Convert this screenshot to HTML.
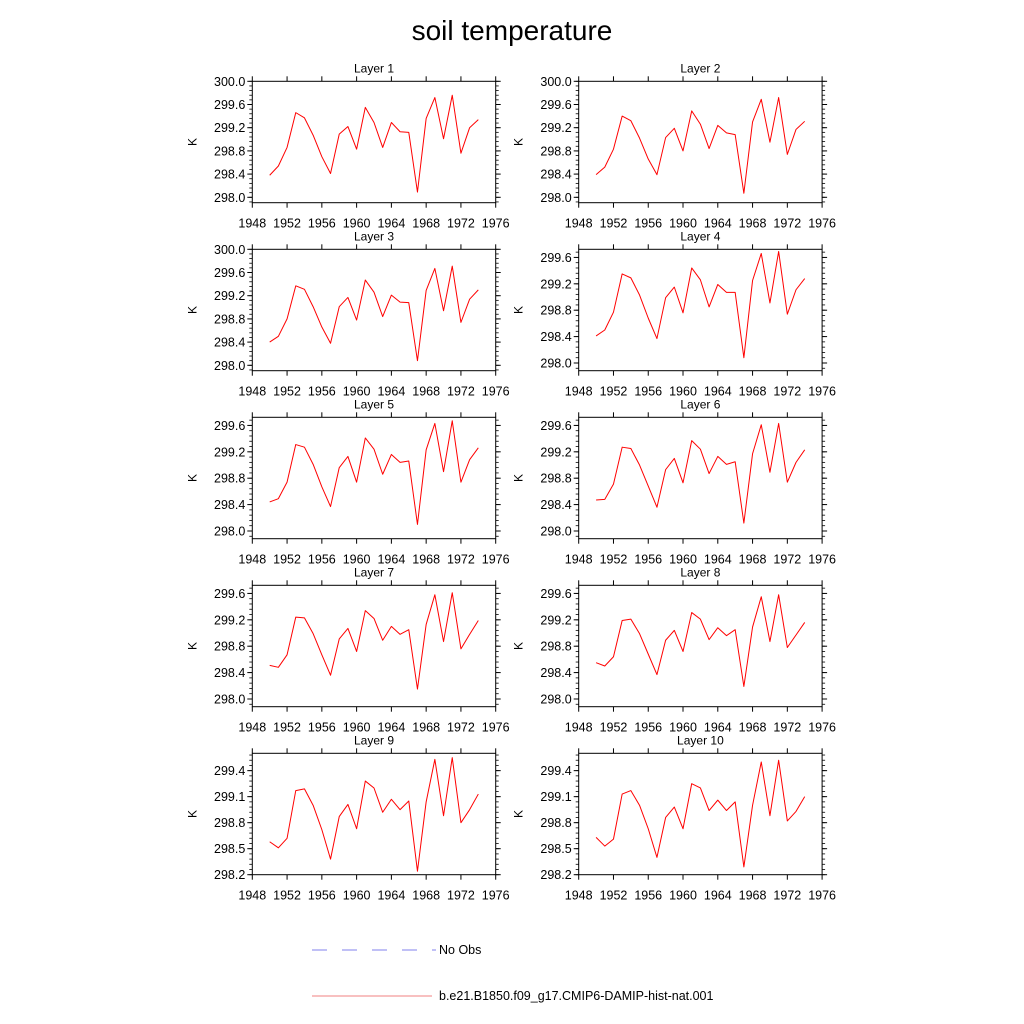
<!DOCTYPE html>
<html><head><meta charset="utf-8">
<style>
html,body{margin:0;padding:0;background:#fff;}
svg{display:block;font-family:"Liberation Sans",Arial,sans-serif;}
</style></head>
<body>
<svg id="chart" width="1024" height="1024" viewBox="0 0 1024 1024" xmlns="http://www.w3.org/2000/svg">
<rect x="0" y="0" width="1024" height="1024" fill="#fff"/>
<text x="512" y="40" font-size="28" text-anchor="middle" fill="#000">soil temperature</text>
<g id="panels"></g>
<g>
<line x1="312" y1="950" x2="436" y2="950" stroke="#8080ee" stroke-width="1" stroke-dasharray="15,15"/>
<text x="439" y="954" font-size="12.5" fill="#000">No Obs</text>
<line x1="312" y1="996" x2="432" y2="996" stroke="#f08080" stroke-width="1"/>
<text x="439" y="1000" font-size="12.5" fill="#000">b.e21.B1850.f09_g17.CMIP6-DAMIP-hist-nat.001</text>
</g>
</svg>
<script>
const years = [1950,1951,1952,1953,1954,1955,1956,1957,1958,1959,1960,1961,1962,1963,1964,1965,1966,1967,1968,1969,1970,1971,1972,1973,1974];
const layer1 = [298.38,298.54,298.86,299.46,299.37,299.07,298.70,298.41,299.09,299.22,298.83,299.55,299.29,298.86,299.29,299.13,299.12,298.09,299.36,299.72,299.01,299.76,298.76,299.20,299.34];
const layer2 = [298.39,298.52,298.83,299.40,299.32,299.02,298.66,298.39,299.03,299.19,298.80,299.49,299.26,298.84,299.24,299.11,299.08,298.07,299.30,299.69,298.95,299.72,298.74,299.17,299.31];
const layer3 = [298.40,298.50,298.80,299.37,299.31,299.01,298.66,298.38,299.01,299.17,298.78,299.47,299.26,298.84,299.21,299.09,299.08,298.08,299.29,299.67,298.94,299.71,298.74,299.14,299.30];
const layer4 = [298.41,298.50,298.77,299.35,299.29,299.03,298.68,298.37,298.99,299.15,298.76,299.44,299.26,298.85,299.19,299.07,299.07,298.08,299.25,299.66,298.91,299.69,298.74,299.11,299.28];
const layer5 = [298.44,298.49,298.74,299.31,299.27,299.01,298.67,298.37,298.96,299.13,298.74,299.41,299.24,298.86,299.16,299.04,299.06,298.10,299.23,299.63,298.90,299.67,298.74,299.08,299.26];
const layer6 = [298.47,298.48,298.71,299.27,299.25,299.00,298.68,298.36,298.93,299.10,298.73,299.37,299.24,298.87,299.13,299.01,299.05,298.12,299.17,299.61,298.89,299.63,298.74,299.04,299.23];
const layer7 = [298.51,298.48,298.67,299.24,299.23,298.99,298.67,298.36,298.91,299.07,298.72,299.34,299.22,298.89,299.10,298.98,299.05,298.15,299.13,299.58,298.87,299.61,298.76,298.98,299.19];
const layer8 = [298.55,298.50,298.64,299.19,299.21,298.99,298.68,298.37,298.89,299.04,298.72,299.31,299.21,298.90,299.08,298.96,299.05,298.19,299.09,299.55,298.87,299.58,298.78,298.97,299.16];
const layer9 = [298.58,298.51,298.62,299.17,299.19,299.00,298.72,298.38,298.87,299.01,298.73,299.28,299.20,298.92,299.07,298.95,299.05,298.24,299.04,299.53,298.88,299.55,298.80,298.95,299.13];
const layer10 = [298.63,298.53,298.61,299.13,299.17,299.00,298.73,298.40,298.86,298.98,298.73,299.25,299.20,298.94,299.06,298.94,299.04,298.29,299.00,299.50,298.88,299.52,298.82,298.93,299.10];
const xTickLabels = ["1948","1952","1956","1960","1964","1968","1972","1976"];
const yTicksA = ["298.0","298.4","298.8","299.2","299.6","300.0"];
const yTicksB = ["298.0","298.4","298.8","299.2","299.6"];
const yTicksC = ["298.2","298.5","298.8","299.1","299.4"];
const layerNames = ["Layer 1","Layer 2","Layer 3","Layer 4","Layer 5","Layer 6","Layer 7","Layer 8","Layer 9","Layer 10"];
const series = [layer1,layer2,layer3,layer4,layer5,layer6,layer7,layer8,layer9,layer10];

const NS = "http://www.w3.org/2000/svg";
const root = document.getElementById('panels');
function mk(tag, attrs, parent){const e=document.createElementNS(NS,tag);for(const k in attrs)e.setAttribute(k,attrs[k]);parent.appendChild(e);return e;}

const W = 243.4, H = 121.4;
const xMin = 1948, xMax = 1976;
for (let i=0;i<10;i++){
  const col = i%2, row = Math.floor(i/2);
  const left = col===0 ? 252.3 : 578.7;
  const top = 81.3 + row*168;
  let yMin, yMax, ticks, minorStep;
  if (i<3){ yMax=300.0; yMin=300.0-2.0*H/116; ticks=yTicksA; minorStep=0.08; }
  else if (i<8){ yMax=299.6+0.4*20/65; yMin=298.0-0.4*19/65; ticks=yTicksB; minorStep=0.08; }
  else { yMax=299.6; yMin=298.2; ticks=yTicksC; minorStep=0.06; }
  const xs = v => left + (v-xMin)/(xMax-xMin)*W;
  const ys = v => top + (yMax-v)/(yMax-yMin)*H;

  const g = mk('g',{},root);
  
  

  const t = mk('text',{x:left+W/2,y:top-9,'font-size':12,'text-anchor':'middle',fill:'#000'},g);
  
  
  t.textContent = layerNames[i];

  const fr = mk('rect',{x:left,y:top,width:W,height:H,fill:'none',stroke:'#000','stroke-width':1},g);
  
  

  xTickLabels.forEach(lbl=>{
    const x = xs(+lbl);
    const tb = mk('line',{x1:x,y1:top+H,x2:x,y2:top+H+5,stroke:'#000','stroke-width':1},g);
    
    
    const tt = mk('line',{x1:x,y1:top,x2:x,y2:top-5,stroke:'#000','stroke-width':1},g);
    
    
    const tl = mk('text',{x:x,y:top+H+25,'font-size':12.5,'text-anchor':'middle',fill:'#000'},g);
    
    
    tl.textContent = lbl;
  });
  const base = +ticks[0];
  for (let v=base-minorStep*5; v<=yMax+1e-6; v+=minorStep){
    if (v < yMin-1e-6) continue;
    const y = ys(v);
    const ml = mk('line',{x1:left,y1:y,x2:left-3,y2:y,stroke:'#000','stroke-width':0.8},g);
    
    
    const mr = mk('line',{x1:left+W,y1:y,x2:left+W+3,y2:y,stroke:'#000','stroke-width':0.8},g);
    
    
  }
  ticks.forEach(lbl=>{
    const y = ys(+lbl);
    const a = mk('line',{x1:left,y1:y,x2:left-5,y2:y,stroke:'#000','stroke-width':1},g);
    
    
    const b = mk('line',{x1:left+W,y1:y,x2:left+W+5,y2:y,stroke:'#000','stroke-width':1},g);
    
    
    const tl = mk('text',{x:left-7,y:y+4.5,'font-size':12.5,'text-anchor':'end',fill:'#000'},g);
    
    
    tl.textContent = lbl;
  });
  const yl = mk('text',{x:0,y:0,'font-size':12,'text-anchor':'middle',fill:'#000',transform:'translate('+(left-56)+','+(top+H/2)+') rotate(-90)'},g);
  
  
  yl.textContent = 'K';

  const pts = series[i].map((v,j)=>xs(years[j]).toFixed(2)+','+ys(v).toFixed(2)).join(' ');
  const pl = mk('polyline',{points:pts,fill:'none',stroke:'#ff0000','stroke-width':1,'stroke-linejoin':'round'},g);
  
  
}
</script>
</body></html>
